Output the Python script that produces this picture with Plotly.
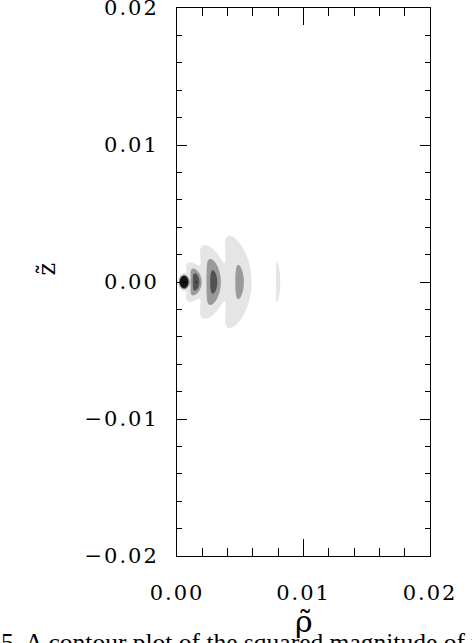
import numpy as np
import plotly.graph_objects as go

# --- values -----------------------------------------------------------------
# each bright feature (central blob + arcs) on the z~ = 0 line
ring_rho = [0.00055, 0.0015, 0.0029, 0.00495, 0.0080]      # position along rho~
ring_peak = [4.7, 0.85, 0.72, 0.42, 0.108]                  # relative |psi|^2 peak
ring_width = [0.000245, 0.00042, 0.00065, 0.00079, 0.0006]  # radial half width
ring_center = [-0.002, 0.0, -0.0013, -0.0013, -0.0013]      # centre of curvature (rho~)
ring_spread = [0.128, 0.72, 0.48, 0.47, 0.58]               # angular extent (rad)

contour_levels = [0.1, 0.35, 0.6, 0.85]
band_colors = ["#ffffff", "#e5e5e5", "#9a9a9a", "#525252", "#121212"]

x_tickvals = [0.0, 0.01, 0.02]
x_ticktext = ["0.00", "0.01", "0.02"]
y_tickvals = [-0.02, -0.01, 0.0, 0.01, 0.02]
y_ticktext = ["\u22120.02", "\u22120.01", "0.00", "0.01", "0.02"]

x_title = "\u03c1\u0303"
y_title = "z\u0303"
caption = "5. A contour plot of the squared magnitude of the"


def spaced(label):
    return '<span style="letter-spacing:2px">' + label + "</span>"


# --- field -------------------------------------------------------------------
rho = np.linspace(0.0, 0.012, 361)
zz = np.linspace(-0.0065, 0.0065, 391)
R, Z = np.meshgrid(rho, zz)
field = np.zeros_like(R)
for r0, a, w, c, sp in zip(ring_rho, ring_peak, ring_width, ring_center, ring_spread):
    d = np.sqrt((R - c) ** 2 + Z ** 2)
    phi = np.arctan2(Z, R - c)
    field += a * np.exp(-((d - (r0 - c)) / w) ** 2) * np.exp(-(phi / sp) ** 2)

n = len(band_colors)
colorscale = [[i / (n - 1), col] for i, col in enumerate(band_colors)]

fig = go.Figure(
    go.Contour(
        x=rho, y=zz, z=field,
        autocontour=False,
        contours=dict(start=contour_levels[0], end=contour_levels[-1],
                      size=contour_levels[1] - contour_levels[0],
                      coloring="fill", showlines=False),
        line=dict(width=0),
        colorscale=colorscale,
        showscale=False,
        hoverinfo="skip",
    )
)

axis_common = dict(
    showline=True, linecolor="black", linewidth=1, mirror="allticks",
    ticks="inside", tickcolor="black", tickwidth=1, automargin=False,
    showgrid=False, zeroline=False, ticklabeloverflow="allow",
    tickfont=dict(family="DejaVu Serif", size=21, color="black"),
)

fig.update_xaxes(
    range=[0, 0.02], tickvals=x_tickvals, ticktext=[spaced(t) for t in x_ticktext],
    ticklen=17, ticklabelstandoff=18,
    minor=dict(ticks="inside", ticklen=8, dtick=0.002, tickcolor="black", showgrid=False),
    **axis_common,
)
fig.update_yaxes(
    range=[-0.02, 0.02], tickvals=y_tickvals, ticktext=[spaced(t) for t in y_ticktext],
    ticklen=10, ticklabelstandoff=13,
    minor=dict(ticks="inside", ticklen=5, dtick=0.002, tickcolor="black", showgrid=False),
    **axis_common,
)

# axis titles placed like the original
fig.add_annotation(
    text=y_title, xref="paper", yref="paper", x=-0.515, y=0.524,
    xanchor="center", yanchor="middle", textangle=-90, showarrow=False,
    font=dict(family="DejaVu Serif", size=24, color="black"),
)
fig.add_annotation(
    text=x_title, xref="paper", yref="paper", x=0.5, y=-0.084,
    xanchor="center", yanchor="top", showarrow=False,
    font=dict(family="DejaVu Serif", size=30, color="black"),
)
fig.add_annotation(
    text=caption, xref="paper", yref="paper", x=-0.705, y=-0.128,
    xanchor="left", yanchor="top", showarrow=False,
    font=dict(family="Liberation Serif", size=25.5, color="black"),
)

fig.update_layout(
    width=472, height=643,
    margin=dict(l=177, r=42, t=8, b=87),
    paper_bgcolor="white", plot_bgcolor="white",
    showlegend=False,
)

fig.write_html("out.html", config={"displayModeBar": False},
               post_script="document.body.style.margin='0px';")
